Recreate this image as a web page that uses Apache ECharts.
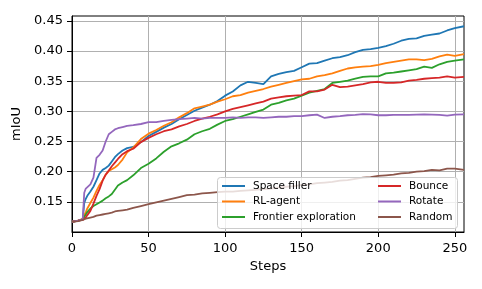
<!DOCTYPE html>
<html>
<head>
<meta charset="utf-8">
<script src="https://cdn.jsdelivr.net/npm/echarts@6/dist/echarts.min.js"></script>
<style>
html,body{margin:0;padding:0;background:#fff;}
#chart{width:482px;height:289px;}
</style>
</head>
<body>
<div id="chart"></div>
<script>
const steps = [0,4,7,8,9,10,12,14,16,18,20,22,24,26,28,30,33,36,40,45,50,55,60,65,70,75,80,85,90,95,100,105,110,115,120,125,130,135,140,145,150,155,160,165,170,175,180,185,190,195,200,205,210,215,220,225,230,235,240,245,250,256];

const spaceFiller = [0.117,0.119,0.121,0.148,0.155,0.160,0.167,0.175,0.186,0.197,0.203,0.206,0.210,0.217,0.224,0.229,0.235,0.239,0.241,0.249,0.259,0.266,0.273,0.279,0.287,0.294,0.301,0.306,0.311,0.317,0.326,0.333,0.343,0.349,0.347,0.345,0.358,0.362,0.365,0.367,0.373,0.379,0.380,0.384,0.388,0.390,0.393,0.398,0.402,0.403,0.405,0.408,0.412,0.417,0.420,0.421,0.425,0.427,0.429,0.434,0.438,0.441];

const rlAgent = [0.117,0.119,0.122,0.128,0.133,0.139,0.148,0.157,0.168,0.178,0.186,0.195,0.201,0.204,0.207,0.211,0.220,0.232,0.240,0.254,0.263,0.269,0.276,0.282,0.290,0.297,0.305,0.308,0.311,0.316,0.320,0.325,0.327,0.331,0.334,0.337,0.341,0.344,0.347,0.350,0.353,0.354,0.358,0.360,0.363,0.367,0.371,0.373,0.374,0.375,0.377,0.380,0.382,0.384,0.386,0.386,0.385,0.387,0.391,0.394,0.392,0.395];

const frontier = [0.117,0.119,0.121,0.125,0.128,0.133,0.139,0.143,0.146,0.149,0.152,0.156,0.159,0.163,0.170,0.177,0.182,0.186,0.194,0.206,0.213,0.222,0.233,0.242,0.247,0.253,0.262,0.267,0.271,0.278,0.284,0.287,0.291,0.295,0.299,0.303,0.311,0.314,0.318,0.321,0.326,0.331,0.334,0.337,0.347,0.349,0.351,0.354,0.357,0.358,0.358,0.363,0.364,0.366,0.368,0.370,0.374,0.372,0.378,0.382,0.384,0.386];

const bounce = [0.117,0.119,0.120,0.121,0.124,0.128,0.135,0.147,0.160,0.171,0.185,0.195,0.202,0.209,0.215,0.221,0.229,0.234,0.238,0.249,0.256,0.262,0.267,0.270,0.275,0.279,0.284,0.288,0.291,0.295,0.300,0.304,0.307,0.310,0.313,0.316,0.321,0.323,0.325,0.326,0.327,0.333,0.333,0.336,0.344,0.340,0.341,0.343,0.345,0.348,0.349,0.347,0.347,0.348,0.351,0.352,0.354,0.355,0.356,0.358,0.356,0.357];

const rotate = [0.117,0.119,0.121,0.165,0.172,0.175,0.179,0.190,0.223,0.228,0.235,0.250,0.262,0.266,0.270,0.272,0.274,0.276,0.277,0.279,0.282,0.282,0.284,0.286,0.287,0.288,0.289,0.288,0.289,0.289,0.289,0.290,0.289,0.290,0.290,0.289,0.290,0.291,0.291,0.292,0.292,0.2935,0.2945,0.289,0.291,0.292,0.2935,0.294,0.2955,0.295,0.2935,0.2935,0.294,0.294,0.294,0.2945,0.295,0.2947,0.294,0.293,0.2945,0.295];

const random = [0.117,0.118,0.120,0.121,0.122,0.123,0.124,0.125,0.127,0.128,0.129,0.130,0.131,0.132,0.134,0.135,0.136,0.137,0.140,0.143,0.146,0.149,0.152,0.155,0.158,0.161,0.162,0.164,0.165,0.166,0.167,0.167,0.168,0.169,0.170,0.171,0.172,0.174,0.175,0.176,0.178,0.179,0.181,0.182,0.183,0.185,0.186,0.188,0.190,0.191,0.193,0.194,0.195,0.197,0.198,0.200,0.201,0.203,0.202,0.205,0.205,0.203];

const seriesNames = ['Space filler','RL-agent','Frontier exploration','Bounce','Rotate','Random'];
const seriesValues = [spaceFiller, rlAgent, frontier, bounce, rotate, random];
const seriesColors = ['#1f77b4','#ff7f0e','#2ca02c','#d62728','#9467bd','#8c564b'];

const xTicks = [0,50,100,150,200,250];
const yTicks = [0.15,0.20,0.25,0.30,0.35,0.40,0.45];

const FONT = 'DejaVu Sans';
const chart = echarts.init(document.getElementById('chart'), null, {renderer:'canvas'});

const legendText = {fontFamily: FONT, fontSize: 10.5, color: '#000', lineHeight: 12, padding: [0,0,0,3]};

chart.setOption({
  animation: false,
  backgroundColor: '#fff',
  grid: {left: 72, right: 18, top: 16, bottom: 57, show: true, borderColor: '#000', borderWidth: 1, backgroundColor: 'transparent'},
  xAxis: {
    type: 'value', min: 0, max: 256, interval: 50,
    name: 'Steps', nameLocation: 'middle', nameGap: 28,
    nameTextStyle: {fontFamily: FONT, fontSize: 13, color: '#000'},
    axisLine: {show: true, lineStyle: {color: '#000', width: 1}},
    axisTick: {show: true, length: 5, lineStyle: {color: '#000'}, customValues: xTicks},
    axisLabel: {fontFamily: FONT, fontSize: 13, color: '#000', margin: 10, customValues: xTicks,
      formatter: v => xTicks.includes(v) ? String(v) : ''},
    splitLine: {show: true, lineStyle: {color: '#b0b0b0', width: 1}}
  },
  yAxis: {
    type: 'value', min: 0.10, max: 0.458, interval: 0.05,
    name: 'mIoU', nameLocation: 'middle', nameGap: 41,
    nameTextStyle: {fontFamily: FONT, fontSize: 13, color: '#000'},
    axisLine: {show: true, lineStyle: {color: '#000', width: 1}},
    axisTick: {show: true, length: 5, lineStyle: {color: '#000'}, customValues: yTicks},
    axisLabel: {fontFamily: FONT, fontSize: 13, color: '#000', margin: 9, customValues: yTicks,
      formatter: v => yTicks.some(t => Math.abs(t - v) < 1e-6) ? v.toFixed(2) : ''},
    splitLine: {show: true, lineStyle: {color: '#b0b0b0', width: 1}}
  },
  graphic: [{
    type: 'rect', z: 100,
    shape: {x: 217.5, y: 177.5, width: 240, height: 51, r: 3},
    style: {fill: 'rgba(255,255,255,0.8)', stroke: '#cccccc', lineWidth: 1}
  }],
  legend: [
    {data: seriesNames.slice(0,3), orient: 'vertical', left: 222, top: 180, padding: 0, itemGap: 3.5,
     itemWidth: 23, itemHeight: 2, icon: 'rect', z: 200, textStyle: legendText, selectedMode: false},
    {data: seriesNames.slice(3), orient: 'vertical', left: 378, top: 180, padding: 0, itemGap: 3.5,
     itemWidth: 23, itemHeight: 2, icon: 'rect', z: 200, textStyle: legendText, selectedMode: false}
  ],
  series: seriesNames.map((name, k) => ({
    name: name, type: 'line', showSymbol: false, symbol: 'none',
    color: seriesColors[k],
    lineStyle: {width: 1.8, color: seriesColors[k]},
    data: steps.map((s, i) => [s, seriesValues[k][i]]),
    z: 2 + k * 0.01
  }))
});
</script>
</body>
</html>
